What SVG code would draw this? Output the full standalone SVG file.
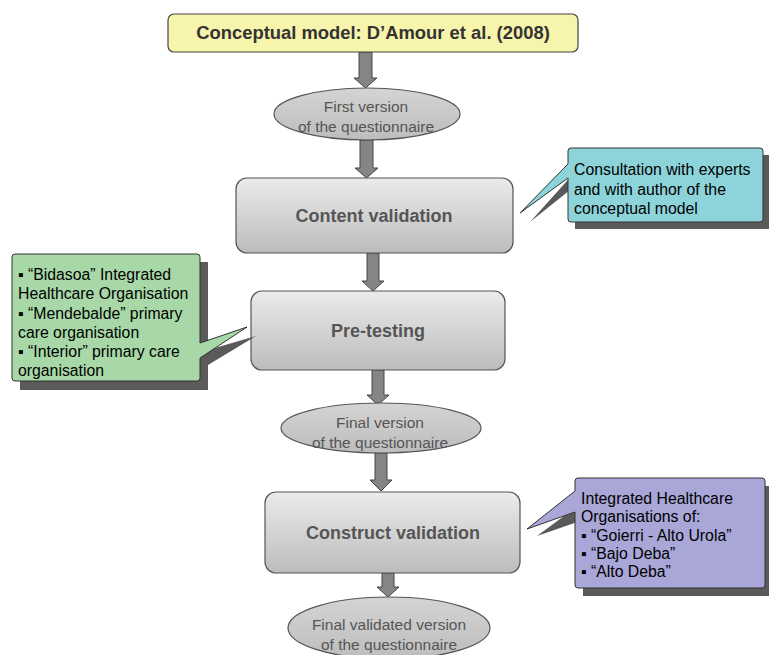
<svg xmlns="http://www.w3.org/2000/svg" width="769" height="655" viewBox="0 0 769 655">
<defs>
<linearGradient id="boxg" x1="0" y1="0" x2="0" y2="1">
<stop offset="0" stop-color="#ebebeb"/>
<stop offset="1" stop-color="#bcbcbc"/>
</linearGradient>
<linearGradient id="ellg" x1="0" y1="0" x2="0" y2="1">
<stop offset="0" stop-color="#d4d4d4"/>
<stop offset="1" stop-color="#bdbdbd"/>
</linearGradient>
</defs>
<style>
.box{fill:url(#boxg);stroke:#555;stroke-width:1.2}
.ell{fill:url(#ellg);stroke:#555;stroke-width:1.2}
.arrow{fill:#858585;stroke:#444;stroke-width:1}
.shadow{fill:#5a5a5a}
.co{stroke:#333;stroke-width:1}
.title{font-family:"Liberation Sans",Arial,sans-serif;font-weight:bold;font-size:18.4px;fill:#333;text-anchor:middle}
.btxt{font-family:"Liberation Sans",Arial,sans-serif;font-weight:bold;font-size:18px;fill:#555;text-anchor:middle}
.etxt{font-family:"Liberation Sans",Arial,sans-serif;font-size:15.5px;fill:#555;text-anchor:middle}
.ctxt{font-family:"Liberation Sans",Arial,sans-serif;font-size:15.8px;fill:#000}
</style>
<rect width="769" height="655" fill="#fff"/>

<g id="connectors">
<path class="arrow" d="M359,52 H372 V78 H377 L365.5,88 L354,78 H359 Z"/>
<path class="arrow" d="M360,140 H373 V168 H378 L366.5,178 L355,168 H360 Z"/>
<path class="arrow" d="M367,253 H379 V281 H384 L373,291 L362,281 H367 Z"/>
<path class="arrow" d="M372,370 H384 V395 H389 L378,405 L367,395 H372 Z"/>
<path class="arrow" d="M375,453 H387 V480 H392 L381,491 L370,480 H375 Z"/>
<path class="arrow" d="M382,573 H394 V587 H399 L388,597 L377,587 H382 Z"/>
</g>

<g id="n-conceptual">
<rect x="168" y="14" width="410" height="38" rx="6" fill="#f7f4ab" stroke="#444" stroke-width="1.2"/>
<text class="title" x="373" y="39">Conceptual model: D’Amour et al. (2008)</text>
</g>

<g id="n-first">
<ellipse class="ell" cx="367" cy="114" rx="93" ry="26"/>
<text class="etxt" x="366" y="112">First version</text>
<text class="etxt" x="366" y="132">of the questionnaire</text>
</g>

<g id="n-content">
<rect class="box" x="236" y="178" width="277" height="75" rx="11"/>
<text class="btxt" x="374" y="222">Content validation</text>
</g>

<g id="n-consult">
<path class="shadow" d="M575,155 H770 V229 H575 V186 L530,222 L575,172 Z"/>
<path class="co" fill="#8dd4da" d="M571,148 H760 Q763,148 763,151 V219 Q763,222 760,222 H571 Q568,222 568,219 V178 L520,213 L568,164 V151 Q568,148 571,148 Z"/>
<text class="ctxt" x="574" y="175">Consultation with experts</text>
<text class="ctxt" x="574" y="195">and with author of the</text>
<text class="ctxt" x="574" y="214">conceptual model</text>
</g>

<g id="n-pretest">
<rect class="box" x="251" y="291" width="254" height="79" rx="11"/>
<text class="btxt" x="378" y="337">Pre-testing</text>
</g>

<g id="n-pilot">
<path class="shadow" d="M20,262 H208 V350 L256,336 L208,365 V390 H20 Z"/>
<path class="co" fill="#a8d8a8" d="M15,254 H197 Q200,254 200,257 V343 L247,327 L200,358 V378 Q200,381 197,381 H15 Q12,381 12,378 V257 Q12,254 15,254 Z"/>
<text class="ctxt" x="18" y="280">▪ “Bidasoa” Integrated</text>
<text class="ctxt" x="18" y="299">Healthcare Organisation</text>
<text class="ctxt" x="18" y="319">▪ “Mendebalde” primary</text>
<text class="ctxt" x="18" y="338">care organisation</text>
<text class="ctxt" x="18" y="357">▪ “Interior” primary care</text>
<text class="ctxt" x="18" y="376">organisation</text>
</g>

<g id="n-final">
<ellipse class="ell" cx="381" cy="428" rx="100" ry="25"/>
<text class="etxt" x="380" y="428">Final version</text>
<text class="etxt" x="380" y="448">of the questionnaire</text>
</g>

<g id="n-construct">
<rect class="box" x="265" y="492" width="255" height="81" rx="11"/>
<text class="btxt" x="393" y="539">Construct validation</text>
</g>

<g id="n-ihos">
<path class="shadow" d="M583,486 H773 V596 H583 V520 L537,536 L583,502 Z"/>
<path class="co" fill="#a9a6d8" d="M578,478 H762 Q765,478 765,481 V585 Q765,588 762,588 H578 Q575,588 575,585 V512 L527,529 L575,491 V481 Q575,478 578,478 Z"/>
<text class="ctxt" x="581" y="504">Integrated Healthcare</text>
<text class="ctxt" x="581" y="522">Organisations of:</text>
<text class="ctxt" x="581" y="541">▪ “Goierri - Alto Urola”</text>
<text class="ctxt" x="581" y="559">▪ “Bajo Deba”</text>
<text class="ctxt" x="581" y="577">▪ “Alto Deba”</text>
</g>

<g id="n-validated">
<ellipse class="ell" cx="389" cy="628" rx="101" ry="31"/>
<text class="etxt" x="389" y="630">Final validated version</text>
<text class="etxt" x="389" y="650">of the questionnaire</text>
</g>
</svg>
